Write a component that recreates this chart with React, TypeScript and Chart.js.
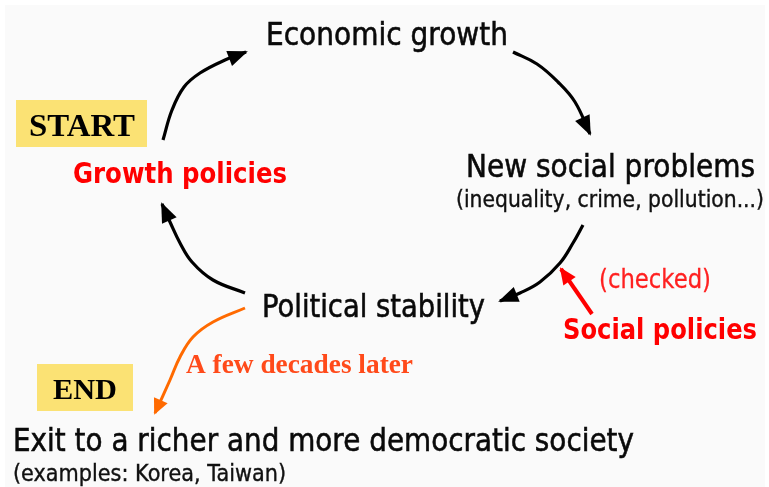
import { useEffect, useRef } from "react";
import { Chart, registerables } from "chart.js";

Chart.register(...registerables);

const W = 769;
const H = 487;

// ---- arrow paths (diagram coordinates, y downward) ----
const arrowToGrowthX = [163, 172, 184, 200, 225, 246];
const arrowToGrowthY = [140, 110, 87, 73, 60, 52];

const arrowToProblemsX = [513, 537, 558, 575, 590];
const arrowToProblemsY = [52, 64, 82, 102, 134];

const arrowToStabilityX = [583, 573, 560, 540, 520, 500];
const arrowToStabilityY = [225, 243, 263, 282, 293, 301];

const arrowToPoliciesX = [245, 213, 192, 180, 170, 162];
const arrowToPoliciesY = [293, 280, 262, 243, 222, 204];

const arrowToExitX = [245, 213, 193, 180, 170, 155];
const arrowToExitY = [308, 322, 337, 357, 380, 413];

const arrowSocialX = [592, 561];
const arrowSocialY = [314, 269];

// ---- labels ----
const labelTexts = [
  "Economic growth",
  "New social problems",
  "(inequality, crime, pollution...)",
  "Political stability",
  "Exit to a richer and more democratic society",
  "(examples: Korea, Taiwan)",
  "Growth policies",
  "Social policies",
  "(checked)",
  "A few decades later",
  "START",
  "END",
];
const labelX = [266, 466, 456, 262, 13, 13, 73, 563, 599, 186, 29, 53];
const labelY = [45, 177, 207, 317, 451, 481, 183, 339, 288, 373, 136, 399];
const labelWidth = [242, 289, 308, 223, 621, 273, 214, 194, 112, 227, 106, 64];

// ---- highlight boxes ----
const boxLeft = [16, 37];
const boxTop = [100, 364];
const boxRight = [147, 133];
const boxBottom = [147, 411];

const SANS = "'DejaVu Sans', sans-serif";
const SERIF = "'Liberation Serif', serif";

const labelStyle = [
  { size: 32, weight: "normal", family: SANS, color: "#0a0a0a", stroke: 0.6 },
  { size: 32, weight: "normal", family: SANS, color: "#0a0a0a", stroke: 0.6 },
  { size: 23, weight: "normal", family: SANS, color: "#111111", stroke: 0.4 },
  { size: 32, weight: "normal", family: SANS, color: "#0a0a0a", stroke: 0.6 },
  { size: 32, weight: "normal", family: SANS, color: "#0a0a0a", stroke: 0.6 },
  { size: 23, weight: "normal", family: SANS, color: "#111111", stroke: 0.4 },
  { size: 28, weight: "bold", family: SANS, color: "#ff0000", stroke: 0 },
  { size: 28, weight: "bold", family: SANS, color: "#ff0000", stroke: 0 },
  { size: 26, weight: "normal", family: SANS, color: "#ff2020", stroke: 0.3 },
  { size: 27, weight: "bold", family: SERIF, color: "#ff4a1a", stroke: 0 },
  { size: 32, weight: "bold", family: SERIF, color: "#000000", stroke: 0 },
  { size: 30, weight: "bold", family: SERIF, color: "#000000", stroke: 0 },
];

const pts = (xs: number[], ys: number[]) => xs.map((x, i) => ({ x, y: ys[i] }));

const arrows = [
  { xs: arrowToGrowthX, ys: arrowToGrowthY, color: "#000000", width: 3.2, head: 18, half: 8 },
  { xs: arrowToProblemsX, ys: arrowToProblemsY, color: "#000000", width: 3.2, head: 18, half: 8 },
  { xs: arrowToStabilityX, ys: arrowToStabilityY, color: "#000000", width: 3.2, head: 18, half: 8 },
  { xs: arrowToPoliciesX, ys: arrowToPoliciesY, color: "#000000", width: 3.2, head: 18, half: 8 },
  { xs: arrowToExitX, ys: arrowToExitY, color: "#ff6a00", width: 3, head: 14, half: 7.5 },
  { xs: arrowSocialX, ys: arrowSocialY, color: "#ff0000", width: 4, head: 15, half: 7.5 },
];

export default function App() {
  const ref = useRef<HTMLCanvasElement | null>(null);

  useEffect(() => {
    document.body.style.margin = "0";
    const canvas = ref.current;
    if (!canvas) return;

    const arrowDatasets = arrows.map((a) => ({
      type: "line" as const,
      data: pts(a.xs, a.ys),
      borderColor: a.color,
      borderWidth: a.width,
      tension: a.xs.length > 2 ? 0.4 : 0,
      pointRadius: 0,
      fill: false,
      showLine: true,
      borderCapStyle: "butt" as const,
      order: 1,
    }));

    const labelDataset = {
      type: "scatter" as const,
      data: pts(labelX, labelY),
      pointRadius: 0,
      showLine: false,
    };

    const diagramPlugin = {
      id: "diagram",
      beforeDatasetsDraw(chart: any) {
        const ctx = chart.ctx;
        const xs = chart.scales.x;
        const ys = chart.scales.y;
        ctx.save();
        ctx.fillStyle = "#ffffff";
        ctx.fillRect(0, 0, chart.width, chart.height);
        ctx.fillStyle = "#fafafa";
        ctx.fillRect(xs.getPixelForValue(5), ys.getPixelForValue(5), xs.getPixelForValue(765) - xs.getPixelForValue(5), ys.getPixelForValue(487) - ys.getPixelForValue(5));
        ctx.fillStyle = "#fbe274";
        for (let i = 0; i < boxLeft.length; i++) {
          const l = xs.getPixelForValue(boxLeft[i]);
          const r = xs.getPixelForValue(boxRight[i]);
          const t = ys.getPixelForValue(boxTop[i]);
          const b = ys.getPixelForValue(boxBottom[i]);
          ctx.fillRect(l, t, r - l, b - t);
        }
        ctx.restore();
      },
      afterDatasetsDraw(chart: any) {
        const ctx = chart.ctx;
        // arrow heads
        arrows.forEach((a, di) => {
          const meta = chart.getDatasetMeta(di);
          const els = meta.data;
          const last = els[els.length - 1];
          const prev = els[els.length - 2];
          let fx = prev.x;
          let fy = prev.y;
          if (a.xs.length > 2 && last.cp1x !== undefined && (Math.abs(last.cp1x - last.x) + Math.abs(last.cp1y - last.y)) > 0.5) {
            fx = last.cp1x;
            fy = last.cp1y;
          }
          const ang = Math.atan2(last.y - fy, last.x - fx);
          ctx.save();
          ctx.translate(last.x, last.y);
          ctx.rotate(ang);
          ctx.fillStyle = a.color;
          ctx.beginPath();
          ctx.moveTo(2, 0);
          ctx.lineTo(-a.head, -a.half);
          ctx.lineTo(-a.head, a.half);
          ctx.closePath();
          ctx.fill();
          ctx.restore();
        });
        // labels
        const lmeta = chart.getDatasetMeta(arrows.length);
        lmeta.data.forEach((el: any, i: number) => {
          const st = labelStyle[i];
          ctx.save();
          ctx.font = `${st.weight} ${st.size}px ${st.family}`;
          ctx.fillStyle = st.color;
          ctx.strokeStyle = st.color;
          ctx.textBaseline = "alphabetic";
          ctx.textAlign = "left";
          const w = ctx.measureText(labelTexts[i]).width;
          const target = chart.scales.x.getPixelForValue(labelX[i] + labelWidth[i]) - el.x;
          ctx.translate(el.x, el.y);
          ctx.scale(target / w, 1);
          ctx.fillText(labelTexts[i], 0, 0);
          if (st.stroke > 0) {
            ctx.lineWidth = st.stroke;
            ctx.strokeText(labelTexts[i], 0, 0);
          }
          ctx.restore();
        });
      },
    };

    const chart = new Chart(canvas, {
      type: "scatter",
      data: { datasets: [...arrowDatasets, labelDataset] as any },
      options: {
        responsive: false,
        animation: false,
        events: [],
        layout: { padding: 0 },
        plugins: { legend: { display: false }, tooltip: { enabled: false } },
        scales: {
          x: { type: "linear", min: 0, max: W, display: false },
          y: { type: "linear", min: 0, max: H, reverse: true, display: false },
        },
      },
      plugins: [diagramPlugin],
    });
    return () => chart.destroy();
  }, []);

  return (
    <div style={{ position: "absolute", left: 0, top: 0, width: W, height: H }}>
      <canvas ref={ref} width={W} height={H} style={{ width: W, height: H, display: "block" }} />
    </div>
  );
}
